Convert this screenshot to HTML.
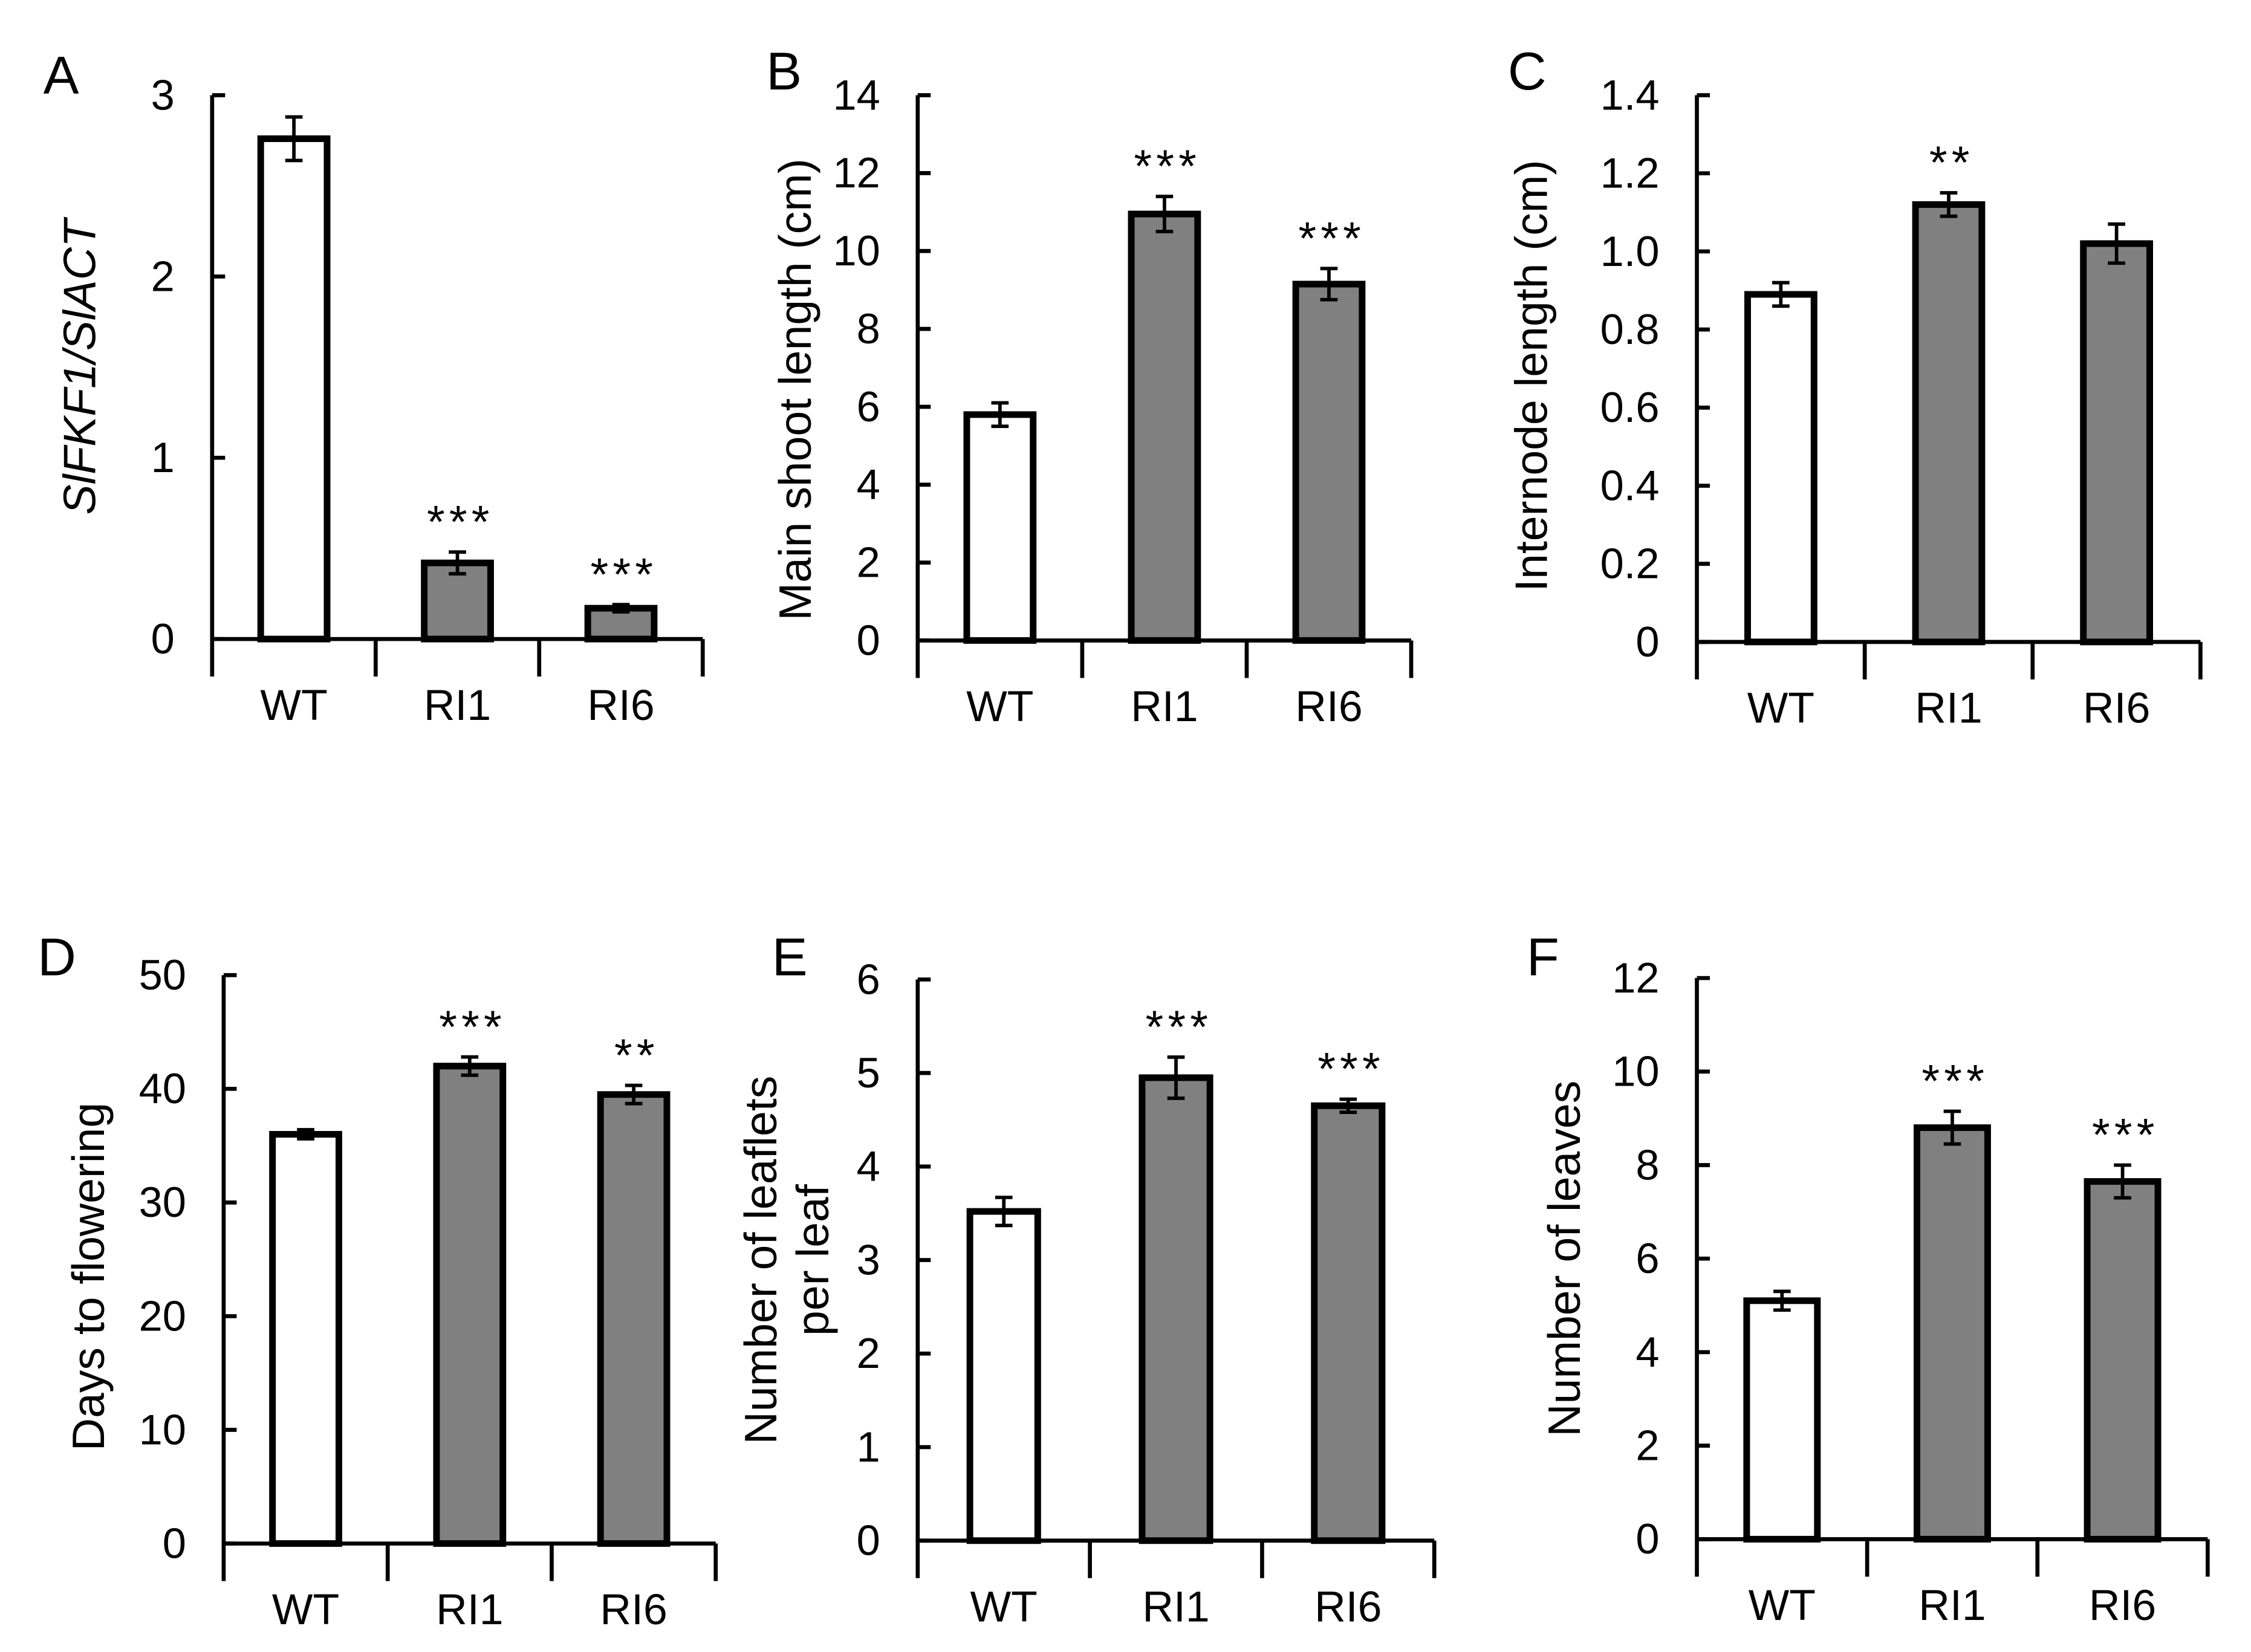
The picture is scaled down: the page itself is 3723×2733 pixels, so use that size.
<!DOCTYPE html>
<html><head><meta charset="utf-8"><style>
html,body{margin:0;padding:0;background:#fff;}
svg{display:block;font-family:"Liberation Sans",Arial,sans-serif;}
</style></head><body>
<svg id="fig" xmlns="http://www.w3.org/2000/svg" width="3723" height="2733" viewBox="0 0 1560 1145.2">
<rect width="1560" height="1146" fill="#fff"/>
</svg>
<script>
const categories = ["WT","RI1","RI6"];
const valuesA = [2.76, 0.42, 0.17];
const errorsA = [0.12, 0.06, 0.02];
const starsA = ["", "***", "***"];
const valuesB = [5.8, 10.95, 9.15];
const errorsB = [0.3, 0.45, 0.4];
const starsB = ["", "***", "***"];
const valuesC = [0.89, 1.12, 1.02];
const errorsC = [0.03, 0.03, 0.05];
const starsC = ["", "**", ""];
const valuesD = [36, 42, 39.5];
const errorsD = [0.4, 0.8, 0.8];
const starsD = ["", "***", "**"];
const valuesE = [3.52, 4.95, 4.65];
const errorsE = [0.15, 0.22, 0.07];
const starsE = ["", "***", "***"];
const valuesF = [5.1, 8.8, 7.65];
const errorsF = [0.2, 0.35, 0.35];
const starsF = ["", "***", "***"];
const ticksA = ["0","1","2","3"];
const ticksB = ["0","2","4","6","8","10","12","14"];
const ticksC = ["0","0.2","0.4","0.6","0.8","1.0","1.2","1.4"];
const ticksD = ["0","10","20","30","40","50"];
const ticksE = ["0","1","2","3","4","5","6"];
const ticksF = ["0","2","4","6","8","10","12"];

const NS = "http://www.w3.org/2000/svg";
const svg = document.getElementById("fig");
function mk(tag, attrs, parent){
  const e = document.createElementNS(NS, tag);
  for (const k in attrs) e.setAttribute(k, attrs[k]);
  (parent||svg).appendChild(e);
  return e;
}
function panel(cfg){
  const g = mk("g", {});
  
  
  const ymax = parseFloat(cfg.ticks[cfg.ticks.length-1]);
  const y = v => cfg.y0 - (v / ymax) * (cfg.y0 - cfg.yTop);
  const n = categories.length;
  const cw = (cfg.xEnd - cfg.ax) / n;
  const xc = i => cfg.ax + cw * (i + 0.5);
  const L = mk("text", {x: cfg.lx, y: cfg.ly, "font-size": 37, fill: "#000"}, g);
  L.textContent = cfg.letter;
  
  
  const ya = mk("line", {x1: cfg.ax, y1: cfg.yTop, x2: cfg.ax, y2: cfg.y0 + 26, stroke: "#000", "stroke-width": 2.8}, g);
  
  
  cfg.ticks.forEach((t) => {
    const ty = y(parseFloat(t));
    mk("line", {x1: cfg.ax, y1: ty, x2: cfg.ax + 9, y2: ty, stroke: "#000", "stroke-width": 2.8}, g);
    const tl = mk("text", {x: cfg.ax - 26, y: ty + 10, "font-size": 29.5, "text-anchor": "end", fill: "#000"}, g);
    tl.textContent = t;
    
    
  });
  const xa = mk("line", {x1: cfg.ax, y1: cfg.y0, x2: cfg.xEnd, y2: cfg.y0, stroke: "#000", "stroke-width": 2.8}, g);
  
  
  for (let i = 1; i <= n; i++) {
    const dx = cfg.ax + cw * i;
    mk("line", {x1: dx, y1: cfg.y0, x2: dx, y2: cfg.y0 + 26, stroke: "#000", "stroke-width": 2.8}, g);
  }
  categories.forEach((c, i) => {
    const bw = cfg.bw;
    const v = cfg.values[i], e = cfg.errors[i];
    const bar = mk("rect", {x: xc(i) - bw/2, y: y(v), width: bw, height: cfg.y0 - y(v),
      fill: i === 0 ? "#fff" : "#808080", stroke: "#000", "stroke-width": 4.6}, g);
    
    
    const eg = mk("g", {stroke: "#000", "stroke-width": 2.4}, g);
    
    
    mk("line", {x1: xc(i), y1: y(v + e), x2: xc(i), y2: y(v - e)}, eg);
    mk("line", {x1: xc(i) - 6, y1: y(v + e), x2: xc(i) + 6, y2: y(v + e)}, eg);
    mk("line", {x1: xc(i) - 6, y1: y(v - e), x2: xc(i) + 6, y2: y(v - e)}, eg);
    if (cfg.stars[i]) {
      const s = mk("text", {x: xc(i) + 2, y: y(v + e) - 10, "font-size": 32, "letter-spacing": 3, "text-anchor": "middle", fill: "#000"}, g);
      s.textContent = cfg.stars[i];
      
      
    }
    const cl = mk("text", {x: xc(i), y: cfg.y0 + 56, "font-size": 30, "text-anchor": "middle", fill: "#000"}, g);
    cl.textContent = c;
    
    
  });
  const ty0 = (cfg.yTop + cfg.y0) / 2 + (cfg.dy || 0);
  cfg.title.forEach((line, k) => {
    const tx = cfg.tx + k * 36;
    const t = mk("text", {x: tx, y: ty0, "font-size": 31.5, "text-anchor": "middle", fill: "#000",
      transform: "rotate(-90 " + tx + " " + ty0 + ")", "font-style": cfg.italic ? "italic" : "normal"}, g);
    t.textContent = line;
    
    
  });
}
panel({letter:"A", lx:30, ly:65, ax:147, xEnd:487, yTop:66, y0:443, bw:46, ticks:ticksA, values:valuesA, errors:errorsA, stars:starsA, title:["SlFKF1/SlACT"], tx:66, italic:true, dy:0});
panel({letter:"B", lx:531, ly:62, ax:636, xEnd:978, yTop:66, y0:444, bw:46, ticks:ticksB, values:valuesB, errors:errorsB, stars:starsB, title:["Main shoot length (cm)"], tx:562, dy:15});
panel({letter:"C", lx:1045, ly:62, ax:1176, xEnd:1525, yTop:66, y0:445, bw:46, ticks:ticksC, values:valuesC, errors:errorsC, stars:starsC, title:["Internode length (cm)"], tx:1072, dy:5});
panel({letter:"D", lx:26, ly:676, ax:155, xEnd:496, yTop:676, y0:1070, bw:46, ticks:ticksD, values:valuesD, errors:errorsD, stars:starsD, title:["Days to flowering"], tx:72, dy:12});
panel({letter:"E", lx:535, ly:676, ax:636, xEnd:994, yTop:679, y0:1068, bw:47, ticks:ticksE, values:valuesE, errors:errorsE, stars:starsE, title:["Number of leaflets","per leaf"], tx:538, dy:0});
panel({letter:"F", lx:1058, ly:676, ax:1176, xEnd:1530, yTop:678, y0:1067, bw:49, ticks:ticksF, values:valuesF, errors:errorsF, stars:starsF, title:["Number of leaves"], tx:1095, dy:0});
</script>
</body></html>
